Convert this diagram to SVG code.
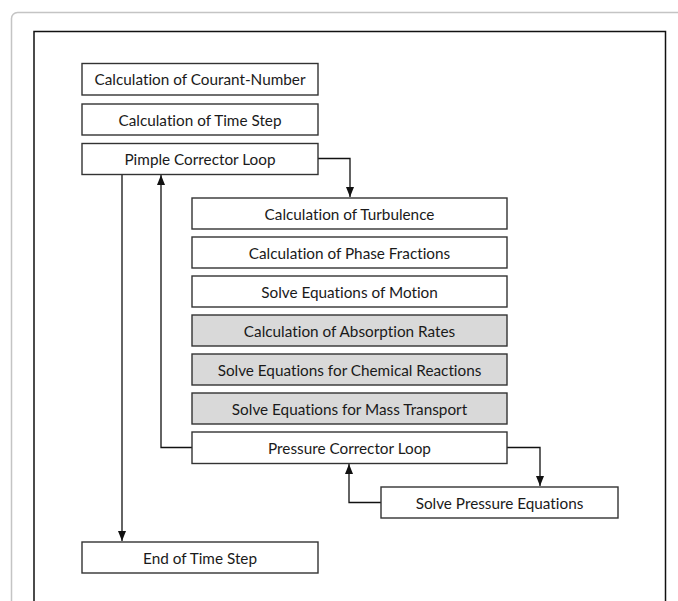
<svg xmlns="http://www.w3.org/2000/svg" width="678" height="601" viewBox="0 0 678 601">
<style>
.box{fill:#fff;stroke:#333;stroke-width:1.4}
.gray{fill:#d9d9d9}
.t{font-family:Lato,"Liberation Sans",sans-serif;font-size:15.3px;fill:#1a1a1a;text-anchor:middle;font-variant-ligatures:none;font-feature-settings:"liga" 0,"dlig" 0}
.c{fill:none;stroke:#111;stroke-width:1.3}
</style>
<defs>
<marker id="ah" markerUnits="userSpaceOnUse" markerWidth="10" markerHeight="10" viewBox="0 0 10 10" refX="10" refY="5" orient="auto">
<path d="M0,1 L10,5 L0,9 Z" fill="#111"/>
</marker>
</defs>
<rect x="11.5" y="12.5" width="700" height="620" rx="6" fill="#fff" stroke="#c4c4c4" stroke-width="1.5"/>
<rect x="34" y="31.5" width="631.5" height="600" fill="#fff" stroke="#111" stroke-width="1.5"/>
<g id="connectors">
<path class="c" d="M318,158.5 H350 V197" marker-end="url(#ah)"/>
<path class="c" d="M122,174 V541" marker-end="url(#ah)"/>
<path class="c" d="M192,447.5 H161 V175" marker-end="url(#ah)"/>
<path class="c" d="M507,447.5 H540 V486" marker-end="url(#ah)"/>
<path class="c" d="M381,502.5 H349 V464" marker-end="url(#ah)"/>
</g>
<g id="courant"><rect class="box" x="82" y="63.5" width="236" height="31.5"/><text class="t" x="200" y="85">Calculation of Courant-Number</text></g>
<g id="timestep"><rect class="box" x="82" y="104" width="236" height="31"/><text class="t" x="200" y="125.5">Calculation of Time Step</text></g>
<g id="pimple"><rect class="box" x="82" y="143.5" width="236" height="31"/><text class="t" x="200" y="165">Pimple Corrector Loop</text></g>
<g id="turbulence"><rect class="box" x="192" y="198" width="315" height="31"/><text class="t" x="349.5" y="219.5">Calculation of Turbulence</text></g>
<g id="phase"><rect class="box" x="192" y="237" width="315" height="31"/><text class="t" x="349.5" y="258.5">Calculation of Phase Fractions</text></g>
<g id="motion"><rect class="box" x="192" y="276" width="315" height="31"/><text class="t" x="349.5" y="297.5">Solve Equations of Motion</text></g>
<g id="absorption"><rect class="box gray" x="192" y="315" width="315" height="31"/><text class="t" x="349.5" y="336.5">Calculation of Absorption Rates</text></g>
<g id="chemical"><rect class="box gray" x="192" y="354" width="315" height="31"/><text class="t" x="349.5" y="375.5">Solve Equations for Chemical Reactions</text></g>
<g id="mass"><rect class="box gray" x="192" y="393" width="315" height="31"/><text class="t" x="349.5" y="414.5">Solve Equations for Mass Transport</text></g>
<g id="pressure"><rect class="box" x="192" y="432" width="315" height="31.5"/><text class="t" x="349.5" y="453.5">Pressure Corrector Loop</text></g>
<g id="solvepressure"><rect class="box" x="381" y="487" width="237" height="31"/><text class="t" x="499.5" y="508.5">Solve Pressure Equations</text></g>
<g id="end"><rect class="box" x="82" y="542" width="236" height="31"/><text class="t" x="200" y="563.5">End of Time Step</text></g>
</svg>
